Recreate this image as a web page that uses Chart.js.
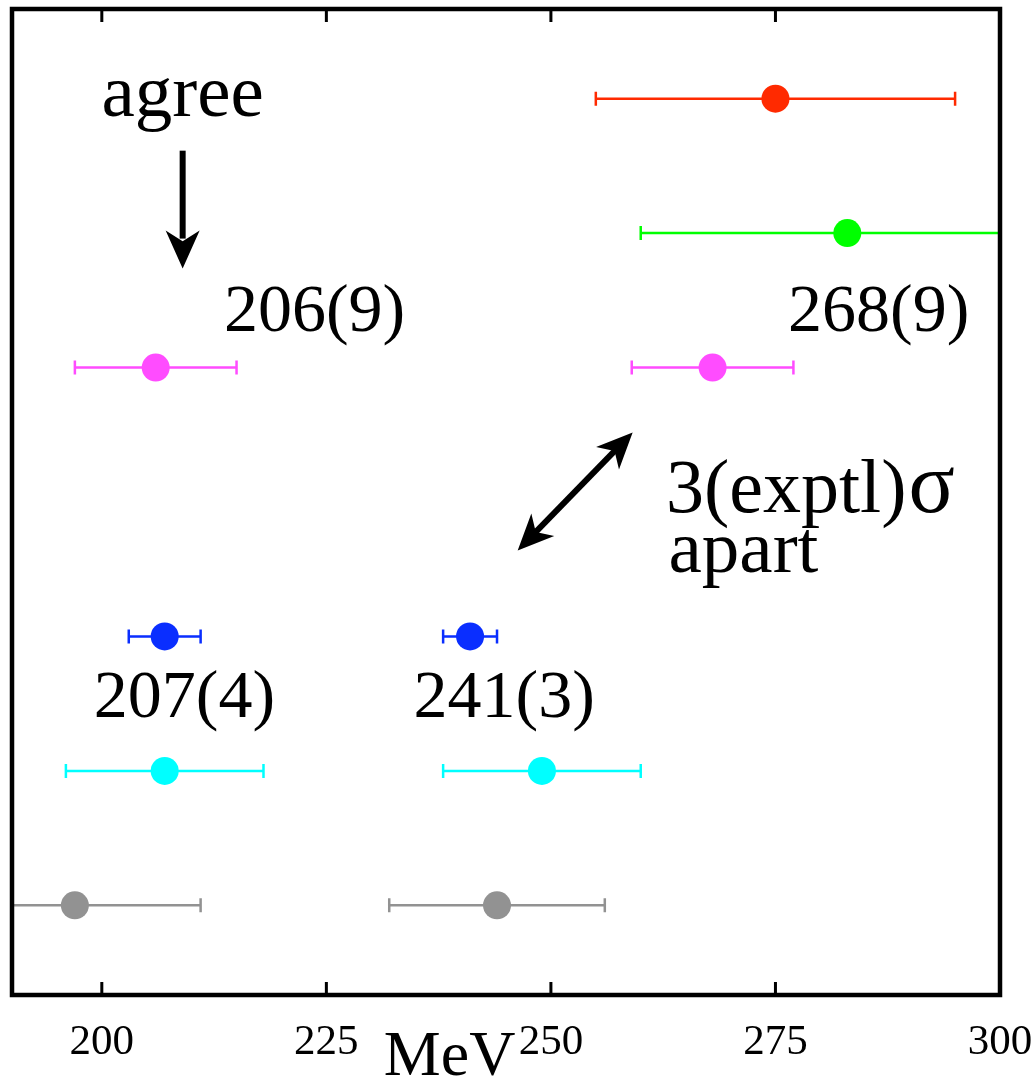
<!DOCTYPE html>
<html>
<head>
<meta charset="utf-8">
<script src="https://cdn.jsdelivr.net/npm/chart.js@4.4.1/dist/chart.umd.min.js"></script>
<style>
  html, body { margin: 0; padding: 0; background: #fff; }
  #wrap { width: 1032px; height: 1085px; }
</style>
</head>
<body>
<div id="wrap"><canvas id="massChart"></canvas></div>
<script>
// values (MeV, symmetric errors)
const tickValues = [200, 225, 250, 275, 300];
const rowRed = 7, rowGreen = 6, rowMagenta = 5, rowBlue = 3, rowCyan = 2, rowGray = 1;

const redMeV = [275];          const redErr = [20];
const greenMeV = [283];        const greenErr = [23];
const magentaMeV = [206, 268]; const magentaErr = [9, 9];
const blueMeV = [207, 241];    const blueErr = [4, 3];
const cyanMeV = [207, 249];    const cyanErr = [11, 11];
const grayMeV = [197, 244];    const grayErr = [14, 12];

const serif = "'Liberation Serif', 'Times New Roman', serif";

function makePoints(vals, errs, row) {
    return vals.map((v, i) => ({ x: v, y: row, xMin: v - errs[i], xMax: v + errs[i] }));
}

function series(label, vals, errs, row, color) {
    return {
        label: label,
        data: makePoints(vals, errs, row),
        backgroundColor: color,
        borderColor: color,
        pointRadius: 14,
        pointHoverRadius: 14,
        borderWidth: 0
    };
}

// horizontal error bars with small caps
const errorBars = {
    id: 'errorBars',
    beforeDatasetsDraw(chart) {
        const ctx = chart.ctx;
        const xs = chart.scales.x, ys = chart.scales.y;
        const area = chart.chartArea;
        ctx.save();
        ctx.beginPath();
        ctx.rect(area.left, area.top, area.right - area.left, area.bottom - area.top);
        ctx.clip();
        chart.data.datasets.forEach(ds => {
            ctx.strokeStyle = ds.borderColor;
            ctx.lineWidth = 2.5;
            ds.data.forEach(p => {
                const x0 = xs.getPixelForValue(p.xMin);
                const x1 = xs.getPixelForValue(p.xMax);
                const y = ys.getPixelForValue(p.y);
                ctx.beginPath();
                ctx.moveTo(x0, y); ctx.lineTo(x1, y);
                ctx.moveTo(x0, y - 7); ctx.lineTo(x0, y + 7);
                ctx.moveTo(x1, y - 7); ctx.lineTo(x1, y + 7);
                ctx.stroke();
            });
        });
        ctx.restore();
    }
};

// frame box and inward ticks on top and bottom
const frame = {
    id: 'frame',
    afterDraw(chart) {
        const ctx = chart.ctx;
        const a = chart.chartArea;
        const xs = chart.scales.x;
        ctx.save();
        ctx.strokeStyle = '#000';
        ctx.lineWidth = 4.5;
        ctx.strokeRect(a.left, a.top, a.right - a.left, a.bottom - a.top);
        ctx.lineWidth = 3;
        tickValues.forEach(v => {
            const x = xs.getPixelForValue(v);
            if (x <= a.left + 2 || x >= a.right - 2) return;
            ctx.beginPath();
            ctx.moveTo(x, a.bottom); ctx.lineTo(x, a.bottom - 13);
            ctx.moveTo(x, a.top); ctx.lineTo(x, a.top + 13);
            ctx.stroke();
        });
        ctx.restore();
    }
};

function arrowHead(ctx, fx, fy, tx, ty, len, half) {
    const ang = Math.atan2(ty - fy, tx - fx);
    ctx.beginPath();
    ctx.moveTo(tx, ty);
    ctx.lineTo(tx - len * Math.cos(ang) + half * Math.sin(ang), ty - len * Math.sin(ang) - half * Math.cos(ang));
    ctx.lineTo(tx - len * 0.72 * Math.cos(ang), ty - len * 0.72 * Math.sin(ang));
    ctx.lineTo(tx - len * Math.cos(ang) - half * Math.sin(ang), ty - len * Math.sin(ang) + half * Math.cos(ang));
    ctx.closePath();
    ctx.fill();
}

// text labels and arrows, placed in data coordinates
const notes = {
    id: 'notes',
    afterDraw(chart) {
        const ctx = chart.ctx;
        const xs = chart.scales.x, ys = chart.scales.y;
        const X = v => xs.getPixelForValue(v);
        const Y = v => ys.getPixelForValue(v);
        ctx.save();
        ctx.fillStyle = '#000';
        ctx.strokeStyle = '#000';
        ctx.textBaseline = 'alphabetic';

        ctx.font = '75px ' + serif;
        ctx.textAlign = 'center';
        ctx.fillText('agree', X(209), Y(6.874));
        ctx.textAlign = 'left';
        ctx.fillText('apart', X(263.1), Y(3.476));
        ctx.font = '76px ' + serif;
        const lead = '3(exptl)';
        ctx.fillText(lead, X(262.8), Y(3.922));
        const w = ctx.measureText(lead).width;
        ctx.font = '86px ' + serif;
        ctx.fillText('\u03c3', X(262.8) + w + 2, Y(3.922));

        ctx.font = '68px ' + serif;
        ctx.fillText('206(9)', X(213.6), Y(5.275));
        ctx.fillText('268(9)', X(276.4), Y(5.275));
        ctx.fillText('207(4)', X(199.1), Y(2.398));
        ctx.fillText('241(3)', X(234.7), Y(2.398));

        // axis title
        ctx.font = '64px ' + serif;
        ctx.fillText('MeV', X(231.4), chart.chartArea.bottom + 80);

        // "agree" arrow
        ctx.lineWidth = 6;
        let fx = X(209), fy = Y(6.613), tx = X(209), ty = Y(5.736);
        ctx.beginPath(); ctx.moveTo(fx, fy); ctx.lineTo(tx, ty - 30); ctx.stroke();
        arrowHead(ctx, fx, fy, tx, ty, 38, 17);

        // double arrow
        fx = X(246.3); fy = Y(3.639); tx = X(259.1); ty = Y(4.517);
        const ang = Math.atan2(ty - fy, tx - fx);
        ctx.beginPath();
        ctx.moveTo(fx + 25 * Math.cos(ang), fy + 25 * Math.sin(ang));
        ctx.lineTo(tx - 25 * Math.cos(ang), ty - 25 * Math.sin(ang));
        ctx.stroke();
        arrowHead(ctx, fx, fy, tx, ty, 36, 16);
        arrowHead(ctx, tx, ty, fx, fy, 36, 16);
        ctx.restore();
    }
};

new Chart(document.getElementById('massChart'), {
    type: 'scatter',
    data: {
        datasets: [
            series('red', redMeV, redErr, rowRed, '#ff2a00'),
            series('green', greenMeV, greenErr, rowGreen, '#00ff00'),
            series('magenta', magentaMeV, magentaErr, rowMagenta, '#ff4cff'),
            series('blue', blueMeV, blueErr, rowBlue, '#0a2eff'),
            series('cyan', cyanMeV, cyanErr, rowCyan, '#00ffff'),
            series('gray', grayMeV, grayErr, rowGray, '#929292')
        ]
    },
    options: {
        responsive: true,
        maintainAspectRatio: false,
        animation: false,
        events: [],
        layout: { autoPadding: false, padding: { left: 12, right: 32, top: 9, bottom: 0 } },
        plugins: {
            legend: { display: false },
            tooltip: { enabled: false }
        },
        scales: {
            x: {
                type: 'linear',
                min: 190,
                max: 300,
                afterBuildTicks: axis => { axis.ticks = tickValues.map(v => ({ value: v })); },
                afterFit: axis => {
                    axis.height = 90;
                    axis.paddingLeft = 0;
                    axis.paddingRight = 0;
                },
                grid: { display: false, drawTicks: false },
                border: { display: false },
                ticks: {
                    color: '#000',
                    padding: 22,
                    maxRotation: 0,
                    autoSkip: false,
                    font: { family: serif, size: 43 }
                }
            },
            y: {
                display: false,
                min: 1 / 3,
                max: 23 / 3
            }
        }
    },
    plugins: [errorBars, frame, notes]
});
</script>
</body>
</html>
